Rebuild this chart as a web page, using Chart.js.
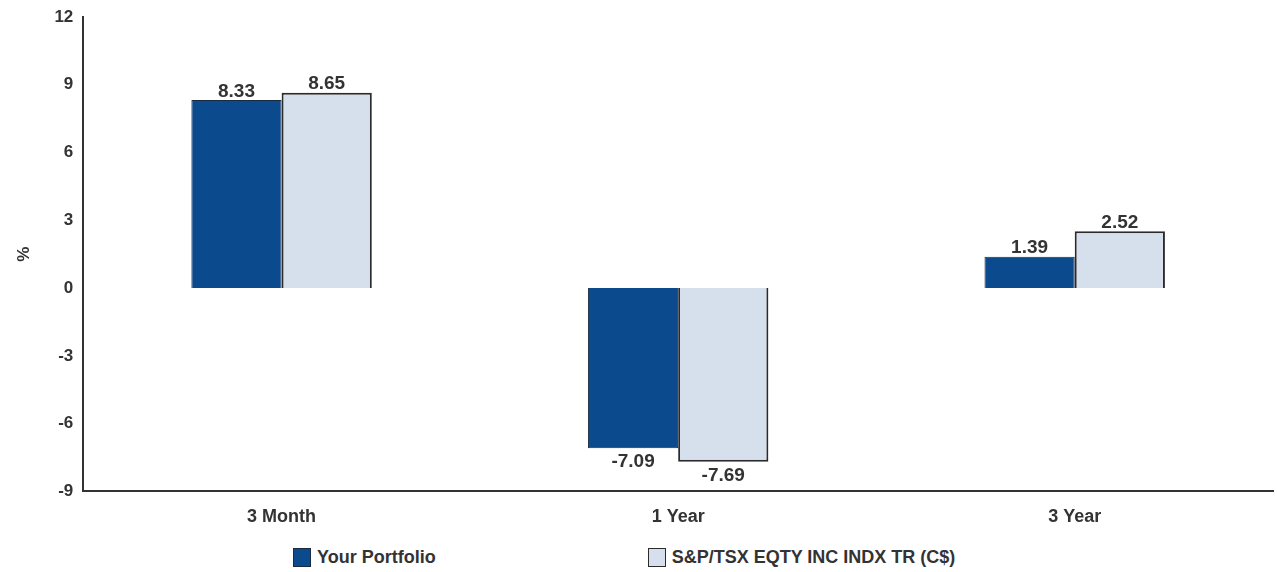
<!DOCTYPE html>
<html>
<head>
<meta charset="utf-8">
<script src="https://cdn.jsdelivr.net/npm/chart.js@4.4.1/dist/chart.umd.min.js"></script>
<style>
    html, body { margin: 0; padding: 0; background: #fff; }
    #wrap { position: relative; width: 1277px; height: 540px; }
    #legend {
        display: flex;
        gap: 212px;
        padding-left: 293px;
        margin-top: 7px;
        font-family: "Liberation Sans", Arial, sans-serif;
        font-weight: bold;
        font-size: 18px;
        color: #333;
    }
    .item { display: flex; align-items: center; }
    .box { width: 18px; height: 19px; margin-right: 6px; box-sizing: border-box; }
</style>
</head>
<body>
<div id="wrap"><canvas id="returns-chart"></canvas></div>
<div id="legend"></div>
<script>
const periods = ['3 Month', '1 Year', '3 Year'];
const portfolioReturns = [8.33, -7.09, 1.39];
const indexReturns = [8.65, -7.69, 2.52];
const seriesNames = ['Your Portfolio', 'S&P/TSX EQTY INC INDX TR (C$)'];

const darkBlue = '#0b4a8c';
const lightBlue = '#d6e0ed';
const textColor = '#333';
const fontFamily = '"Liberation Sans", Arial, sans-serif';

// draw value labels above positive bars, below negative ones
const valueLabels = {
    id: 'valueLabels',
    afterDatasetsDraw (chart) {
        const ctx = chart.ctx;
        ctx.save();
        ctx.font = 'bold 19px ' + fontFamily;
        ctx.fillStyle = textColor;
        ctx.textAlign = 'center';
        chart.data.datasets.forEach((ds, i) => {
            const meta = chart.getDatasetMeta(i);
            meta.data.forEach((bar, j) => {
                const v = ds.data[j];
                if (v >= 0) {
                    ctx.textBaseline = 'bottom';
                    ctx.fillText(v.toFixed(2), bar.x, bar.y + 1);
                } else {
                    ctx.textBaseline = 'top';
                    ctx.fillText(v.toFixed(2), bar.x, bar.y + 4);
                }
            });
        });
        ctx.restore();
    }
};

const chart = new Chart(
    document.getElementById('returns-chart'),
    {
        type: 'bar',
        data: {
            labels: periods,
            datasets: [
                {
                    label: seriesNames[0],
                    data: portfolioReturns,
                    backgroundColor: darkBlue,
                    borderColor: '#1a2a40',
                    borderWidth: 1,
                    barPercentage: 1,
                    categoryPercentage: 0.455
                },
                {
                    label: seriesNames[1],
                    data: indexReturns,
                    backgroundColor: lightBlue,
                    borderColor: '#2b2b2b',
                    borderWidth: 2,
                    barPercentage: 1,
                    categoryPercentage: 0.455
                }
            ]
        },
        options: {
            responsive: true,
            maintainAspectRatio: false,
            animation: false,
            layout: {
                padding: { top: 17, right: 4, left: 14, bottom: 5 }
            },
            plugins: {
                legend: { display: false },
                tooltip: { enabled: false }
            },
            scales: {
                x: {
                    grid: { display: false },
                    border: { color: '#333', width: 2 },
                    ticks: {
                        color: textColor,
                        font: { family: fontFamily, size: 18, weight: 'bold' },
                        padding: 7
                    }
                },
                y: {
                    min: -9,
                    max: 12,
                    grid: { display: false },
                    border: { color: '#333', width: 2 },
                    ticks: {
                        stepSize: 3,
                        color: textColor,
                        font: { family: fontFamily, size: 17, weight: 'bold' },
                        padding: 2
                    },
                    title: {
                        display: true,
                        text: '%',
                        color: textColor,
                        font: { family: fontFamily, size: 17, weight: 'bold' },
                        padding: { top: 0, bottom: 18 }
                    }
                }
            }
        },
        plugins: [valueLabels]
    }
);

// html legend built from the datasets
const legendEl = document.getElementById('legend');
chart.data.datasets.forEach(ds => {
    const item = document.createElement('div');
    item.className = 'item';
    const box = document.createElement('span');
    box.className = 'box';
    box.style.background = ds.backgroundColor;
    box.style.border = '1px solid ' + ds.borderColor;
    const label = document.createElement('span');
    label.textContent = ds.label;
    item.appendChild(box);
    item.appendChild(label);
    legendEl.appendChild(item);
});
</script>
</body>
</html>
